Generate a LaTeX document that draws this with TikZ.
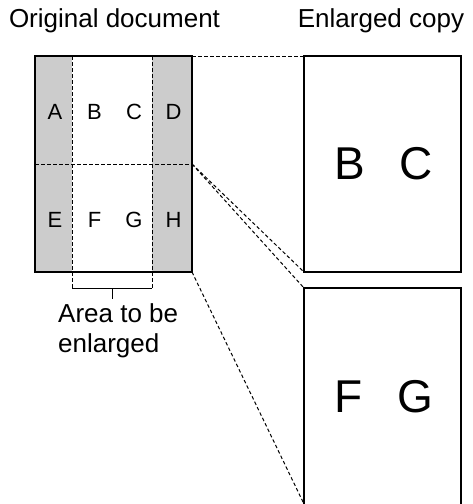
\documentclass[tikz,border=0pt]{standalone}
\usepackage{fontspec}
\setmainfont{Liberation Sans}
\begin{document}
\begin{tikzpicture}[x=1pt, y=-1pt,
    sheet/.style={rectangle, draw, line width=1.6pt, inner sep=0pt, outer sep=0pt, minimum width=157pt, minimum height=216pt},
    guide/.style={dash pattern=on 3.5pt off 2.5pt, line width=1pt},
    small/.style={inner sep=0pt, anchor=base, font=\fontsize{22}{26}\selectfont},
    big/.style={inner sep=0pt, anchor=base, font=\fontsize{46}{52}\selectfont},
    caption/.style={inner sep=0pt, font=\fontsize{26}{30}\selectfont}]
    \useasboundingbox (0,0) rectangle (472,504);
    % shaded margins of the original
    \fill[black!20] (35,56) rectangle (72,272);
    \fill[black!20] (152,56) rectangle (192,272);
    \draw[guide] (72,56) -- (72,288);
    \draw[guide] (152,56) -- (152,288);
    \node[sheet] (orig) at (113.5,164) {};
    \draw[guide] (orig.west) -- (orig.east);
    \foreach \t [count=\i from 0] in {A,B,C,D}
        \node[small] (top\t) at (55+39.5*\i,119) {\t};
    \foreach \t [count=\i from 0] in {E,F,G,H}
        \node[small] (bot\t) at (55+39.5*\i,227) {\t};
    % bracket
    \coordinate (brkL) at (72,288);
    \coordinate (brkR) at (152,288);
    \coordinate (brkM) at (112,288);
    \coordinate (brkT) at (112,299);
    \draw[line width=1pt] (brkL) -- (brkR);
    \draw[line width=1pt] (brkM) -- (brkT);
    \node[caption, anchor=base west, align=left] (areaNote) at (58,352) {Area to be\\enlarged};
    % enlarged pages
    \node[sheet] (copyBC) at (382.5,164) {};
    \node[sheet, draw=none] (copyFG) at (382.5,396) {};
    \draw[line width=1.6pt] (copyFG.south west) -- (copyFG.north west) -- (copyFG.north east) -- (copyFG.south east);
    \node[big] (bigB) at (350,179) {B};
    \node[big] (bigC) at (416,179) {C};
    \node[big] (bigF) at (349,412) {F};
    \node[big] (bigG) at (415,412) {G};
    \draw[guide] (orig.north east) -- (copyBC.north west);
    \draw[guide] (orig.east) -- (copyBC.south west);
    \draw[guide] (orig.east) -- (copyFG.north west);
    \draw[guide] (orig.south east) -- (copyFG.south west);
    % titles
    \node[caption, anchor=base] (origTitle) at (114.5,27) {Original document};
    \node[caption, anchor=base] (copyTitle) at (381,27) {Enlarged copy};
\end{tikzpicture}
\end{document}
